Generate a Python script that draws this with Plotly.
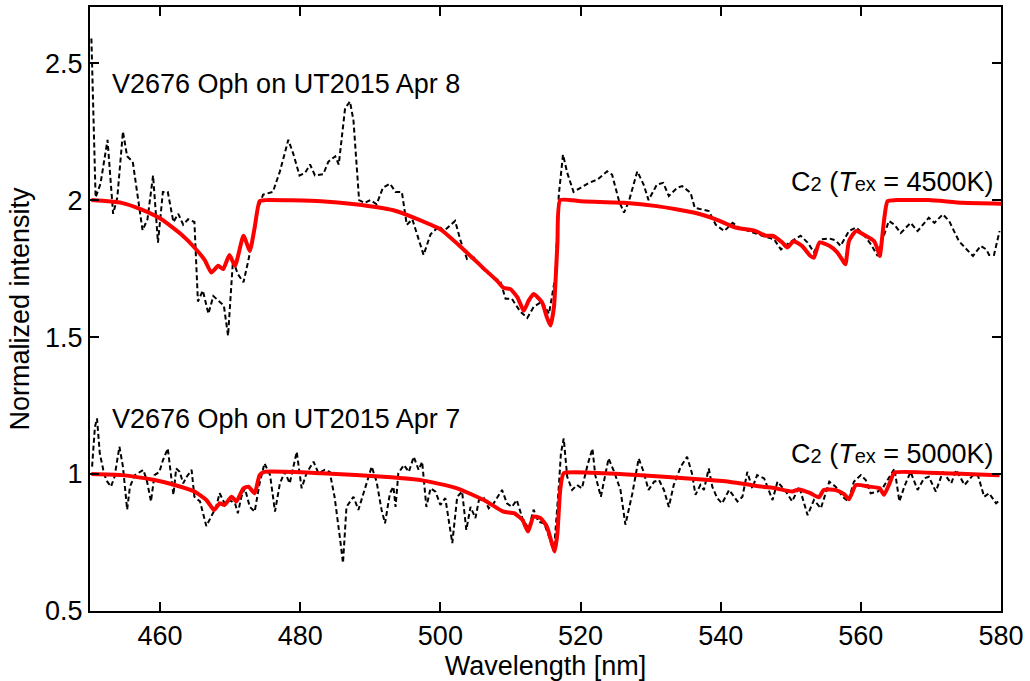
import plotly.graph_objects as go

# ---- Observed spectrum, UT2015 Apr 8 (offset +1) ----
obs8_x = [450.2, 450.8, 451.5, 452.5, 453.3, 453.9, 454.7, 455.3, 456.1, 457.5, 458.2, 459.0, 459.7,
          460.4, 461.1, 461.9, 462.6, 463.3, 464.0, 464.9, 465.4, 466.1, 466.9, 467.6, 469.1, 469.7,
          470.4, 471.1, 471.9, 472.6, 473.3, 474.0, 474.7, 476.1, 477.1, 478.3, 479.0, 479.9, 480.7,
          481.4, 482.1, 483.3, 484.0, 485.0, 485.5, 486.4, 487.1, 487.6, 488.4, 489.2, 490.0, 490.9,
          491.8, 492.8, 493.6, 494.5, 495.2, 496.0, 497.6, 498.6, 499.8, 500.5, 502.1, 502.9, 503.8,
          504.8, 506.0, 507.1, 508.6, 509.3, 510.2, 511.4, 512.4, 513.3, 514.5, 515.5, 516.4, 516.9,
          517.5, 518.1, 519.0, 520.0, 521.2, 522.4, 523.8, 524.5, 525.5, 526.2, 526.9, 528.1, 529.0,
          529.7, 530.9, 531.8, 532.6, 533.8, 534.5, 535.7, 536.3, 538.3, 539.3, 540.5, 541.7, 542.6,
          544.0, 545.9, 547.6, 548.6, 549.8, 551.4, 552.4, 553.3, 554.3, 555.5, 556.4, 557.1, 558.3,
          559.3, 560.2, 561.4, 562.4, 563.1, 564.0, 564.8, 565.7, 566.7, 567.1, 568.1, 569.7, 570.5,
          571.7, 572.6, 574.0, 576.0, 577.1, 577.9, 578.3, 579.0, 579.8]
obs8_y = [2.59, 2.01, 2.06, 2.22, 1.95, 2.01, 2.25, 2.16, 2.14, 1.89, 1.93, 2.09, 1.845,
          2.03, 2.03, 1.92, 1.95, 1.91, 1.93, 1.92, 1.63, 1.67, 1.585, 1.65, 1.615, 1.505,
          1.78, 1.73, 1.70, 1.78, 1.875, 1.97, 2.02, 2.03, 2.105, 2.22, 2.17, 2.09, 2.10,
          2.13, 2.09, 2.095, 2.14, 2.16, 2.13, 2.335, 2.36, 2.29, 2.00, 1.99, 2.00, 1.985,
          2.045, 2.06, 2.03, 2.03, 1.91, 1.93, 1.80, 1.875, 1.905, 1.887, 1.924, 1.85, 1.785,
          1.79, 1.75, 1.73, 1.70, 1.64, 1.64, 1.593, 1.57, 1.61, 1.63, 1.585, 1.72, 2.02,
          2.166, 2.10, 2.03, 2.045, 2.063, 2.075, 2.105, 2.093, 1.996, 1.954, 1.996, 2.105, 2.057,
          2.00, 2.057, 2.063, 2.015, 2.045, 2.051, 2.027, 1.972, 1.96, 1.91, 1.887, 1.917, 1.90,
          1.887, 1.87, 1.857, 1.82, 1.845, 1.87, 1.845, 1.81, 1.857, 1.86, 1.853, 1.833, 1.887,
          1.90, 1.88, 1.84, 1.796, 1.857, 1.924, 1.91, 1.88, 1.905, 1.917, 1.887, 1.936, 1.917,
          1.948, 1.924, 1.85, 1.796, 1.833, 1.82, 1.80, 1.80, 1.887]

# ---- C2 model, Tex = 4500 K (offset +1) ----
mod8_x = [450.2, 454.5, 457.3, 460.2, 463.0, 464.9, 466.4, 467.3, 468.3, 469.0, 469.9, 470.7, 471.9,
          472.8, 473.5, 474.2, 475.0, 483.0, 487.8, 493.3, 496.2, 500.0, 503.3, 506.2, 508.1, 509.0,
          510.0, 511.0, 511.9, 512.6, 513.3, 514.5, 515.2, 515.7, 516.2, 516.7, 517.1, 520.0, 526.2,
          530.9, 536.3, 539.3, 542.1, 545.0, 546.4, 547.4, 548.8, 549.5, 550.4, 551.6, 552.8, 553.3,
          554.1, 555.5, 556.6, 557.4, 557.8, 558.3, 559.3, 560.7, 561.9, 562.4, 562.7, 563.3, 563.8,
          565.0, 569.7, 574.5, 580.0]
mod8_y = [2.0, 1.99, 1.966, 1.93, 1.875, 1.827, 1.78, 1.736, 1.76, 1.748, 1.80, 1.76, 1.87,
          1.815, 1.90, 1.996, 2.0, 1.996, 1.985, 1.963, 1.936, 1.893, 1.82, 1.75, 1.705, 1.68,
          1.675, 1.645, 1.596, 1.633, 1.657, 1.627, 1.572, 1.542, 1.608, 1.84, 2.0, 1.996, 1.99,
          1.978, 1.954, 1.93, 1.90, 1.887, 1.87, 1.87, 1.845, 1.827, 1.85, 1.833, 1.796, 1.79,
          1.845, 1.833, 1.81, 1.78, 1.766, 1.85, 1.887, 1.87, 1.85, 1.82, 1.796, 1.924, 1.996,
          2.0, 2.0, 1.99, 1.987]

# ---- Observed spectrum, UT2015 Apr 7 ----
obs7_x = [450.3, 450.7, 451.0, 451.4, 451.9, 452.3, 453.0, 453.5, 454.2, 454.7, 455.3, 455.7, 456.4,
          457.6, 458.1, 458.7, 459.2, 459.9, 460.4, 461.1, 461.9, 462.3, 462.8, 463.3, 463.8, 464.5,
          464.9, 465.7, 466.6, 467.3, 468.0, 468.5, 469.2, 469.9, 470.7, 471.1, 471.6, 472.1, 472.8,
          473.5, 474.2, 474.9, 475.7, 476.4, 477.1, 477.8, 478.5, 479.5, 480.2, 480.9, 481.9, 482.6,
          483.5, 484.2, 484.9, 485.7, 486.1, 486.6, 487.6, 488.3, 489.2, 490.2, 490.9, 491.6, 492.1,
          492.8, 493.3, 493.6, 494.0, 494.8, 495.5, 496.2, 496.9, 497.4, 498.0, 498.6, 499.3, 500.0,
          500.7, 501.7, 502.4, 503.1, 503.7, 504.3, 505.0, 505.5, 506.2, 506.9, 507.6, 508.8, 509.5,
          510.2, 510.9, 511.7, 512.6, 513.3, 514.0, 514.8, 515.5, 516.2, 516.9, 517.2, 517.6, 518.1,
          518.8, 519.5, 520.2, 521.0, 521.7, 522.1, 522.9, 523.6, 524.0, 524.8, 525.7, 526.4, 527.4,
          528.3, 529.0, 529.7, 530.5, 531.2, 531.9, 532.6, 533.3, 534.3, 535.2, 535.9, 536.4, 537.1,
          537.6, 538.3, 538.8, 539.5, 540.2, 541.2, 542.4, 543.1, 543.8, 544.5, 545.2, 546.2, 547.4,
          548.1, 549.3, 550.2, 551.2, 552.4, 553.3, 554.3, 555.5, 556.4, 557.4, 558.2, 559.0, 560.0,
          560.7, 561.4, 562.4, 563.1, 564.8, 565.5, 566.2, 567.1, 568.1, 569.0, 569.7, 570.7, 571.7,
          572.9, 573.6, 574.8, 576.0, 576.7, 577.6, 578.3, 579.3, 579.8]
obs7_y = [1.027, 1.172, 1.203, 1.075, 1.015, 0.978, 0.954, 0.99, 1.10, 1.027, 0.87, 0.954, 0.996,
          1.015, 0.978, 0.90, 0.996, 1.008, 1.05, 1.093, 0.924, 1.02, 1.008, 0.966, 0.99, 1.015,
          0.917, 0.90, 0.81, 0.845, 0.88, 0.93, 0.893, 0.905, 0.893, 0.857, 0.917, 0.948, 0.88,
          0.863, 0.966, 1.039, 0.996, 0.863, 0.966, 1.008, 0.966, 1.081, 0.948, 1.003, 1.045, 1.003,
          1.015, 1.008, 0.917, 0.76, 0.675, 0.88, 0.917, 0.869, 0.948, 1.027, 0.972, 0.87, 0.82,
          0.93, 0.954, 0.88, 1.003, 1.033, 1.008, 1.063, 1.015, 1.045, 0.88, 0.948, 0.936, 0.887,
          0.912, 0.748, 0.917, 0.936, 0.796, 0.88, 0.839, 0.905, 0.912, 0.875, 0.893, 0.942, 0.893,
          0.88, 0.905, 0.839, 0.80, 0.87, 0.826, 0.82, 0.772, 0.717, 0.954, 1.075, 1.13, 0.99,
          0.942, 0.96, 0.948, 1.033, 1.093, 0.996, 0.917, 1.008, 1.057, 1.008, 0.942, 0.815, 0.93,
          1.057, 1.008, 0.942, 0.972, 0.978, 0.942, 0.88, 0.96, 1.027, 1.063, 1.003, 0.924, 0.96,
          0.942, 1.02, 0.954, 0.912, 0.893, 0.942, 0.90, 0.917, 1.008, 0.948, 0.996, 0.984, 0.905,
          0.972, 0.936, 0.90, 0.954, 0.85, 0.905, 0.875, 0.972, 0.954, 0.917, 0.90, 0.972, 0.996,
          0.978, 0.93, 0.936, 0.948, 1.02, 0.90, 0.954, 1.008, 0.942, 0.984, 0.99, 0.936, 1.008,
          0.966, 1.015, 0.96, 0.996, 0.996, 0.917, 0.93, 0.893, 0.905]

# ---- C2 model, Tex = 5000 K ----
mod7_x = [450.2, 454.5, 459.2, 462.1, 464.9, 466.6, 467.7, 468.5, 469.2, 470.2, 470.9, 471.9, 472.6,
          473.5, 474.2, 474.9, 483.0, 493.0, 497.6, 502.4, 506.2, 509.0, 510.5, 511.7, 512.5, 513.3,
          514.3, 515.2, 515.9, 516.3, 516.7, 517.1, 517.6, 521.4, 528.6, 536.3, 541.2, 545.9, 547.8,
          550.2, 551.2, 552.8, 554.0, 554.7, 556.4, 557.6, 558.3, 559.3, 561.2, 562.7, 563.3, 564.1,
          564.8, 569.7, 579.8]
mod7_y = [1.0, 0.996, 0.978, 0.96, 0.936, 0.905, 0.869, 0.893, 0.887, 0.917, 0.90, 0.948, 0.954,
          0.93, 0.996, 1.008, 1.003, 0.988, 0.976, 0.948, 0.905, 0.863, 0.857, 0.833, 0.79, 0.845,
          0.839, 0.808, 0.748, 0.717, 0.784, 0.942, 1.003, 1.005, 0.996, 0.982, 0.972, 0.954, 0.948,
          0.936, 0.944, 0.93, 0.915, 0.942, 0.942, 0.927, 0.908, 0.96, 0.954, 0.948, 0.924, 0.966,
          1.005, 1.005, 0.996]

x_ticks = [460, 480, 500, 520, 540, 560, 580]
y_ticks = [0.5, 1, 1.5, 2, 2.5]
y_tick_labels = ["0.5", "1", "1.5", "2", "2.5"]

FONT = "Liberation Sans, Arial, Helvetica, sans-serif"
FS = 27

fig = go.Figure()
obs_style = dict(color="black", width=2, dash="5px,3px")
mod_style = dict(color="#ff0000", width=4, shape="spline", smoothing=0.5)

fig.add_trace(go.Scatter(x=obs8_x, y=obs8_y, mode="lines", line=obs_style, showlegend=False))
fig.add_trace(go.Scatter(x=obs7_x, y=obs7_y, mode="lines", line=obs_style, showlegend=False))
fig.add_trace(go.Scatter(x=mod8_x, y=mod8_y, mode="lines", line=mod_style, showlegend=False))
fig.add_trace(go.Scatter(x=mod7_x, y=mod7_y, mode="lines", line=mod_style, showlegend=False))

small = "<span style='font-size:20px'>"
fig.add_annotation(x=452.86, y=2.425, text="V2676 Oph on UT2015 Apr 8", showarrow=False,
                   xanchor="left", yanchor="middle")
fig.add_annotation(x=452.86, y=1.2, text="V2676 Oph on UT2015 Apr 7", showarrow=False,
                   xanchor="left", yanchor="middle")
fig.add_annotation(x=579.3, y=2.065,
                   text="C" + small + "2</span> (<i>T</i>" + small + "ex</span> = 4500K)",
                   showarrow=False, xanchor="right", yanchor="middle")
fig.add_annotation(x=579.3, y=1.073,
                   text="C" + small + "2</span> (<i>T</i>" + small + "ex</span> = 5000K)",
                   showarrow=False, xanchor="right", yanchor="middle")

axis_common = dict(showline=True, linecolor="black", linewidth=2, mirror="ticks",
                   ticks="inside", ticklen=9, tickwidth=2, tickcolor="black",
                   showgrid=False, zeroline=False,
                   tickfont=dict(family=FONT, size=FS, color="black"))

fig.update_xaxes(range=[450, 580], tickvals=x_ticks,
                 title=dict(text="Wavelength [nm]", font=dict(family=FONT, size=FS, color="black"),
                            standoff=0),
                 **axis_common)
fig.update_yaxes(range=[0.5, 2.705], tickvals=y_ticks, ticktext=y_tick_labels,
                 title=dict(text="Normalized intensity", font=dict(family=FONT, size=FS, color="black"),
                            standoff=8),
                 **axis_common)

fig.update_layout(width=1030, height=681,
                  margin=dict(l=90, r=29, t=5, b=70),
                  paper_bgcolor="white", plot_bgcolor="white",
                  font=dict(family=FONT, size=FS, color="black"))

fig.write_html("out.html", config={"displayModeBar": False},
               post_script="document.body.style.margin='0px';")
